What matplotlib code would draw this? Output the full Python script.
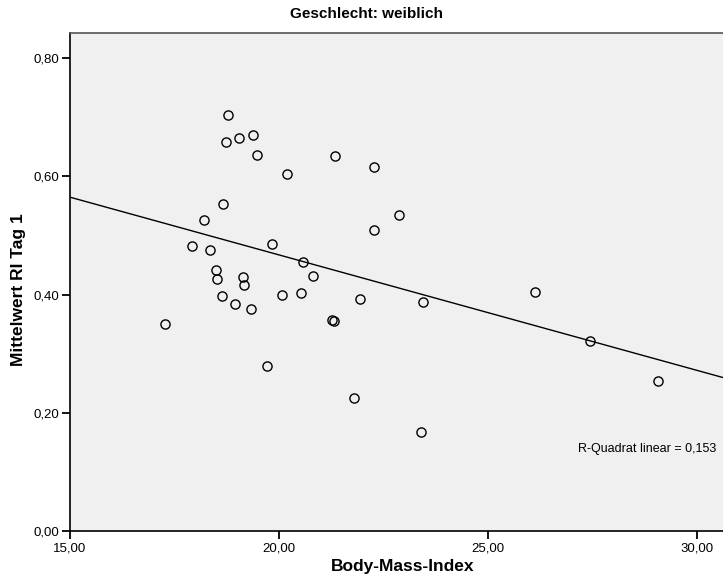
import numpy as np
import matplotlib
matplotlib.use("Agg")
import matplotlib.pyplot as plt
from matplotlib.ticker import FuncFormatter

plt.rcParams['font.family'] = ['Liberation Sans', 'DejaVu Sans']

# Body-Mass-Index and mean RI (day 1), female subgroup
bmi = [18.785, 18.730, 19.048, 19.383, 19.472, 18.651, 18.211, 17.917, 18.341,
       19.823, 18.498, 18.522, 19.137, 19.161, 18.642, 18.945, 19.335, 17.264,
       20.196, 21.344, 22.276, 22.860, 22.276, 20.579, 20.818, 20.069, 20.517,
       21.927, 23.434, 21.258, 21.306, 19.718, 21.798, 23.386, 26.119, 27.434,
       29.053]
ri_day1 = [0.704, 0.658, 0.664, 0.669, 0.636, 0.553, 0.526, 0.482, 0.475,
           0.486, 0.442, 0.427, 0.430, 0.416, 0.397, 0.384, 0.375, 0.350,
           0.604, 0.634, 0.616, 0.534, 0.509, 0.455, 0.432, 0.399, 0.402,
           0.392, 0.387, 0.357, 0.356, 0.279, 0.225, 0.168, 0.405, 0.322,
           0.254]

x_ticks = [15, 20, 25, 30]
y_ticks = [0.0, 0.2, 0.4, 0.6, 0.8]
title = "Geschlecht: weiblich"
x_label = "Body-Mass-Index"
y_label = "Mittelwert RI Tag 1"
r2_label = "R-Quadrat linear = 0,153"

x = np.array(bmi)
y = np.array(ri_day1)

fig = plt.figure(figsize=(7.23, 5.81), dpi=100)
ax = fig.add_axes([70 / 723, 1 - 531.3 / 581, 1 - 70 / 723, (531.3 - 33) / 581])
ax.set_facecolor('#f0f0f0')

xmin, xmax = 15.0, 30.61
ax.set_xlim(xmin, xmax)
ax.set_ylim(0.0, 0.842)

# linear fit line
slope, intercept = np.polyfit(x, y, 1)
xx = np.array([xmin, xmax])
ax.plot(xx, intercept + slope * xx, color='black', lw=1.0, zorder=2)

ax.plot(x, y, linestyle='none', marker='o', markersize=6.6,
        markerfacecolor='none', markeredgecolor='black', markeredgewidth=1.0,
        zorder=3)

ax.set_xticks(x_ticks)
ax.set_yticks(y_ticks)
comma = FuncFormatter(lambda v, p: f"{v:.2f}".replace('.', ','))
ax.xaxis.set_major_formatter(comma)
ax.yaxis.set_major_formatter(comma)
ax.tick_params(direction='out', length=6, width=1.3, labelsize=9.5,
               colors='black', pad=2)

for side in ('left', 'bottom'):
    ax.spines[side].set_color('black')
    ax.spines[side].set_linewidth(1.2)
ax.spines['top'].set_color('#555555')
ax.spines['top'].set_linewidth(1.2)
ax.spines['right'].set_visible(False)

fig.text(716 / 723, 1 - 449 / 581, r2_label, fontsize=9,
         ha='right', va='center')

fig.text(367 / 723, 1 - 14 / 581, title, fontsize=11, fontweight='bold',
         ha='center', va='center')
fig.text(403 / 723, 1 - 566 / 581, x_label, fontsize=12.5, fontweight='bold',
         ha='center', va='center')
fig.text(19 / 723, 1 - 290 / 581, y_label, fontsize=12.5, fontweight='bold',
         ha='center', va='center', rotation=90)

fig.savefig('out.png', dpi=100)
